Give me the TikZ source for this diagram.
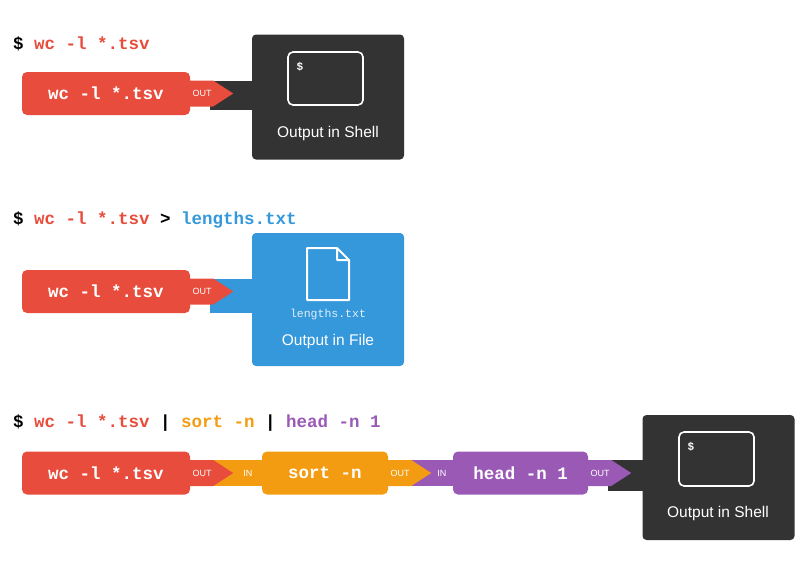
\documentclass[tikz,border=0pt]{standalone}
\usepackage{fontspec}
\setmainfont{Liberation Sans}
\setsansfont{Liberation Sans}
\setmonofont{Liberation Mono}
\usetikzlibrary{calc,positioning}
\definecolor{cmdred}{HTML}{E74C3C}
\definecolor{cmdorange}{HTML}{F39C12}
\definecolor{cmdpurple}{HTML}{9B59B6}
\definecolor{outdark}{HTML}{333333}
\definecolor{fileblue}{HTML}{3498DB}
\tikzset{
  cmd/.style={fill=#1, rounded corners=5pt, minimum width=168pt, minimum height=43pt,
    text=white, font=\fontsize{17.5}{17.5}\ttfamily\bfseries, inner sep=0pt},
  sink/.style={fill=#1, rounded corners=4pt, minimum width=152pt, minimum height=125pt, inner sep=0pt},
  title/.style={anchor=base west, font=\fontsize{17.5}{17.5}\ttfamily\bfseries, inner sep=0pt},
  tag/.style={text=white, font=\fontsize{9}{9}\sffamily},
  caption/.style={text=white, font=\fontsize{15.5}{15.5}\sffamily},
}
% arrow tip leaving a command box
\newcommand{\outtip}[2]{%
  \fill[#2] ($(#1.east)+(-3,-13)$) -- ($(#1.east)+(23,-13)$) -- ($(#1.east)+(43,0)$)
    -- ($(#1.east)+(23,13)$) -- ($(#1.east)+(-3,13)$) -- cycle;
  \node[tag] at ($(#1.east)+(12,0)$) {OUT};
}
\begin{document}
\begin{tikzpicture}[x=1pt,y=-1pt]
  \useasboundingbox (0,0) rectangle (802,562);
  % row 1
  \node[title] (t1) at (13,49) {\$ \textcolor{cmdred}{wc -l *.tsv}};
  \node[cmd=cmdred] (wc1) at (106,93.5) {wc -l *.tsv};
  \node[sink=outdark] (sh1) at (328,97) {};
  \fill[outdark] ($(wc1.east)+(20,-13)$) rectangle ($(sh1.west)+(1,13)$);
  \outtip{wc1}{cmdred}
  \draw[white, line width=1.6pt, rounded corners=5pt] (288,52) rectangle (363,105);
  \node[text=white, font=\fontsize{11}{11}\sffamily\bfseries] at (300,67) {\$};
  \node[caption] at (328,133) {Output in Shell};
  % row 2
  \node[title] (t2) at (13,224) {\$ \textcolor{cmdred}{wc -l *.tsv} > \textcolor{fileblue}{lengths.txt}};
  \node[cmd=cmdred] (wc2) at (106,291.5) {wc -l *.tsv};
  \node[sink=fileblue, minimum height=133pt] (file) at (328,299.5) {};
  \fill[fileblue] ($(wc2.east)+(20,-13)$) rectangle ($(file.west)+(1,13)$);
  \outtip{wc2}{cmdred}
  \draw[white, line width=2pt, line join=round] (307,248) -- (337,248) -- (349,260) -- (349,300)
    -- (307,300) -- cycle (337,248) -- (337,260) -- (349,260);
  \node[text=white!85!fileblue, font=\fontsize{11.5}{11.5}\ttfamily] at (328,315) {lengths.txt};
  \node[caption] at (328,341) {Output in File};
  % row 3
  \node[title] (t3) at (13,427) {\$ \textcolor{cmdred}{wc -l *.tsv} | \textcolor{cmdorange}{sort -n} | \textcolor{cmdpurple}{head -n 1}};
  \node[cmd=cmdred] (wc3) at (106,473) {wc -l *.tsv};
  \node[cmd=cmdorange, minimum width=126pt] (sort) at (325,473) {sort -n};
  \node[cmd=cmdpurple, minimum width=135pt] (head) at (520.5,473) {head -n 1};
  \node[sink=outdark] (sh3) at (718.5,477.5) {};
  \fill[cmdorange] ($(wc3.east)+(20,-13)$) rectangle ($(sort.west)+(1,13)$);
  \fill[cmdpurple] ($(sort.east)+(20,-13)$) rectangle ($(head.west)+(1,13)$);
  \fill[outdark] ($(head.east)+(20,-13)$) rectangle ($(sh3.west)+(1,13)$);
  \outtip{wc3}{cmdred}
  \outtip{sort}{cmdorange}
  \outtip{head}{cmdpurple}
  \node[tag] at ($(sort.west)+(-14,0)$) {IN};
  \node[tag] at ($(head.west)+(-11,0)$) {IN};
  \draw[white, line width=1.6pt, rounded corners=5pt] (679,432) rectangle (754,486);
  \node[text=white, font=\fontsize{11}{11}\sffamily\bfseries] at (691,447) {\$};
  \node[caption] at (718,513) {Output in Shell};
\end{tikzpicture}
\end{document}
